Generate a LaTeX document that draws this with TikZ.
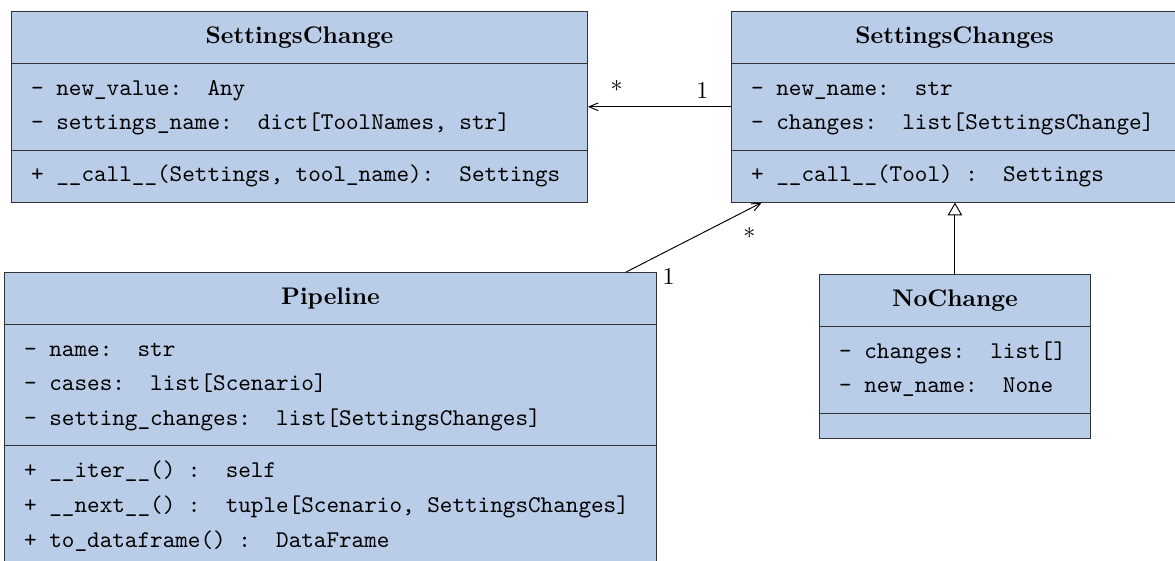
\documentclass[tikz,border=0pt]{standalone}
\usepackage{amsmath}
\usepackage{pgf, tikz}
\usetikzlibrary{shapes}
\usetikzlibrary{shapes.multipart}
\usetikzlibrary{arrows}

\definecolor{classblue}{RGB}{185,205,232}
\setlength{\parindent}{0pt}
\newcommand{\ustrut}{\rule[-3.25pt]{0pt}{11.25pt}}
\newcommand{\cname}[1]{\ustrut\makebox[\hsize]{\rmfamily\bfseries #1}}
% monospaced spaces, one character wide
\newcommand{\umlfont}{\ttfamily\fontdimen2\font=5.25pt\fontdimen3\font=0pt\fontdimen4\font=0pt}

\tikzset{umlclass/.style={draw=black!80, fill=classblue,
   rectangle split, rectangle split parts=3,
   anchor=north west, align=flush left,
   inner xsep=8.2pt, inner ysep=5pt, font=\umlfont}}

\begin{document}
\begin{tikzpicture}[>=angle 45]
\useasboundingbox (0,0) rectangle (17.209,8.216);
\clip (0,0) rectangle (17.209,8.216);

\node[umlclass, text width=223.6pt] (SC) at (0.161,8.055)
  {\cname{SettingsChange}
     \nodepart{second} \ustrut- new\_value:\ \ Any\\[2.5pt]
       \ustrut- settings\_name:\ \ dict[ToolNames, str]
     \nodepart{third} \ustrut+ \_\_call\_\_(Settings, tool\_name):\ \ Settings};
\node[umlclass, text width=169.5pt] (SCs) at (10.706,8.055)
  {\cname{SettingsChanges}
     \nodepart{second} \ustrut- new\_name:\ \ str\\[2.5pt]
       \ustrut- changes:\ \ list[SettingsChange]
     \nodepart{third} \ustrut+ \_\_call\_\_(Tool) :\ \ Settings};
\node[umlclass, text width=255.3pt] (P) at (0.059,4.233)
  {\cname{Pipeline}
     \nodepart{second} \ustrut- name:\ \ str\\[2.5pt]
       \ustrut- cases:\ \ list[Scenario]\\[2.5pt]
       \ustrut- setting\_changes:\ \ list[SettingsChanges]
     \nodepart{third} \ustrut+ \_\_iter\_\_() :\ \ self\\[2.5pt]
       \ustrut+ \_\_next\_\_() :\ \ tuple[Scenario, SettingsChanges]\\[2.5pt]
       \ustrut+ to\_dataframe() :\ \ DataFrame};
\node[umlclass, text width=96.5pt] (NC) at (11.995,4.203)
  {\cname{NoChange}
     \nodepart{second} \ustrut- changes:\ \ list[]\\[2.5pt]
       \ustrut- new\_name:\ \ None
     \nodepart{third}};

\draw[<-] (SC.east) -- node[above, pos=0.2] {*} node[above, pos=0.8] {1} (SCs.west);
\draw[->] ([xshift=-0.45cm]P.north east) --
   node[pos=0, xshift=0.62cm, yshift=-0.06cm] {1}
   node[pos=1, xshift=-0.18cm, yshift=-0.5cm] {*}
   ([xshift=0.45cm]SCs.south west);
\draw[-open triangle 60] (NC.north) -- (NC.north |- SCs.south);
\end{tikzpicture}
\end{document}
